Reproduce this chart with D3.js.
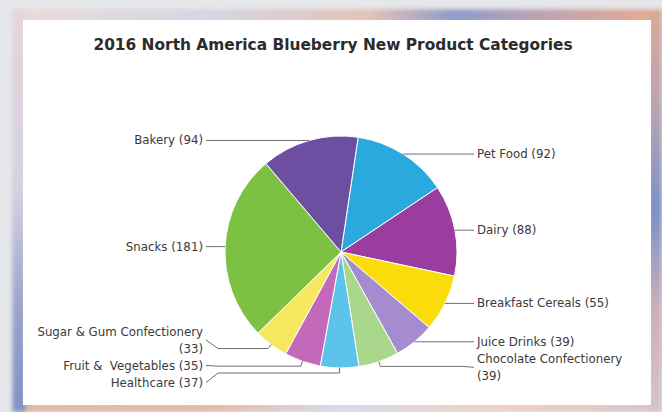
<!DOCTYPE html>
<html>
<head>
<meta charset="utf-8">
<script src="https://cdn.jsdelivr.net/npm/d3@7"></script>
<style>
  html, body { margin: 0; padding: 0; background: #e6e7ea; }
  svg { display: block; font-family: "DejaVu Sans", Verdana, sans-serif; }
</style>
</head>
<body>
<svg id="chart" width="662" height="412"></svg>
<script>
// 2016 North America blueberry new product launches, by category
const title = "2016 North America Blueberry New Product Categories";
const categories = [
  "Pet Food", "Dairy", "Breakfast Cereals", "Juice Drinks",
  "Chocolate Confectionery", "Healthcare", "Fruit &  Vegetables",
  "Sugar & Gum Confectionery", "Snacks", "Bakery"
];
const counts = [92, 88, 55, 39, 39, 37, 35, 33, 181, 94];
const sliceColors = [
  "#2aa9df", "#9b3d9f", "#f9dc0a", "#a58bd0", "#a9d88c",
  "#5cc3ea", "#c469b9", "#f7e660", "#7dc143", "#6c4fa1"
];

const W = 662, H = 412;
const svg = d3.select("#chart");
const defs = svg.append("defs");

// ---- soft coloured frame around the white panel ----
function grad(id, stops, vertical) {
  const g = defs.append("linearGradient").attr("id", id)
    .attr("x1", 0).attr("y1", 0)
    .attr("x2", vertical ? 0 : 1).attr("y2", vertical ? 1 : 0);
  stops.forEach(([o, c]) => g.append("stop").attr("offset", o).attr("stop-color", c));
}
grad("gTop", [[0, "#eadbd8"], [0.3, "#d6d6e4"], [0.55, "#e4c2b6"], [0.68, "#8e9acb"], [0.8, "#b9a2b4"], [1, "#e9aa90"]]);
grad("gBottom", [[0, "#e3b7a4"], [0.3, "#e8b8a4"], [0.5, "#d7d9ea"], [0.75, "#efd0c2"], [1, "#d9c4cc"]]);
grad("gLeft", [[0, "#e4d6da"], [0.45, "#d4d0e0"], [0.75, "#9aa3cc"], [1, "#8192c4"]], true);
grad("gRight", [[0, "#dca898"], [0.25, "#b9a3b2"], [0.5, "#7c91c8"], [0.75, "#cdb0b8"], [1, "#d7c2cc"]], true);

const blur = defs.append("filter").attr("id", "soft")
  .attr("x", "-10%").attr("y", "-10%").attr("width", "120%").attr("height", "120%");
blur.append("feGaussianBlur").attr("stdDeviation", 2);

const frame = svg.append("g").attr("filter", "url(#soft)");
frame.append("rect").attr("x", 0).attr("y", 0).attr("width", W).attr("height", H).attr("fill", "#e6e7ea");
frame.append("rect").attr("x", 12).attr("y", 9).attr("width", W - 12).attr("height", 14).attr("fill", "url(#gTop)");
frame.append("rect").attr("x", 12).attr("y", 402).attr("width", W - 12).attr("height", 10).attr("fill", "url(#gBottom)");
frame.append("rect").attr("x", 12).attr("y", 9).attr("width", 14).attr("height", H - 9).attr("fill", "url(#gLeft)");
frame.append("rect").attr("x", 648).attr("y", 9).attr("width", 14).attr("height", H - 9).attr("fill", "url(#gRight)");

// white chart panel
svg.append("rect").attr("x", 23).attr("y", 20).attr("width", 628).attr("height", 385).attr("fill", "#ffffff");

// ---- title ----
svg.append("text")
  .attr("x", 333).attr("y", 45)
  .attr("text-anchor", "middle").attr("dominant-baseline", "central")
  .attr("font-size", 15.4).attr("font-weight", "bold").attr("fill", "#2b2b2b")
  .text(title);

// ---- pie ----
const cx = 341, cy = 252, r = 116;
const startDeg = 8.5;
const data = categories.map((c, i) => ({ name: c, value: counts[i], color: sliceColors[i] }));

const pie = d3.pie().sort(null).value(d => d.value)
  .startAngle(startDeg * Math.PI / 180)
  .endAngle(startDeg * Math.PI / 180 + 2 * Math.PI);
const arcs = pie(data);
const arc = d3.arc().innerRadius(0).outerRadius(r);

const g = svg.append("g").attr("transform", `translate(${cx},${cy})`);
g.selectAll("path.slice").data(arcs).join("path")
  .attr("class", "slice")
  .attr("d", arc)
  .attr("fill", d => d.data.color)
  .attr("stroke", "#ffffff").attr("stroke-width", 1);

// ---- data labels with connectors ----
const fontSize = 11.8, lineH = 17;
const labelGap = 136;          // horizontal distance from centre to label text
const outerR = r + 5;          // connector break just outside the pie
const leftLimit = 32, rightLimit = 645;
const maxBottom = 391;         // lowest point a label block may reach

const labels = arcs.map(a => {
  const mid = (a.startAngle + a.endAngle) / 2;
  const right = Math.sin(mid) >= 0;
  return {
    a, mid, right,
    text: `${a.data.name} (${a.data.value})`,
    edgeX: cx + r * Math.sin(mid), edgeY: cy - r * Math.cos(mid),
    breakX: cx + outerR * Math.sin(mid), breakY: cy - outerR * Math.cos(mid)
  };
});

// measure text and wrap by words when it does not fit on its side
const meas = svg.append("text").attr("font-size", fontSize).style("white-space", "pre");
function width(s) { meas.text(s); return meas.node().getComputedTextLength(); }
labels.forEach(l => {
  const avail = l.right ? rightLimit - (cx + labelGap) : (cx - labelGap - 2) - leftLimit;
  const words = l.text.split(" ");
  const lines = [];
  let cur = "";
  words.forEach(w => {
    const t = cur === "" ? w : cur + " " + w;
    if (cur !== "" && width(t) > avail) { lines.push(cur); cur = w; }
    else cur = t;
  });
  lines.push(cur);
  l.lines = lines;
  l.h = lines.length * lineH;
});
meas.remove();

// label blocks are centred on the slice edge height; resolve overlaps per side
["left", "right"].forEach(side => {
  const group = labels.filter(l => (side === "right") === l.right)
    .sort((p, q) => p.edgeY - q.edgeY);
  let prevBottom = -Infinity;
  group.forEach(l => {
    let top = l.edgeY - l.h / 2;
    if (top < prevBottom) top = prevBottom;
    l.top = top;
    prevBottom = top + l.h;
  });
  // pull the stack back up if it runs past the bottom of the panel
  let nextTop = maxBottom;
  for (let i = group.length - 1; i >= 0; i--) {
    const l = group[i];
    if (l.top + l.h > nextTop) l.top = nextTop - l.h;
    nextTop = l.top;
  }
  group.forEach(l => { l.anchorY = l.top + l.h / 2; });
});

const lg = svg.append("g");
labels.forEach(l => {
  const dir = l.right ? 1 : -1;
  const tx = l.right ? cx + labelGap : cx - labelGap - 2;
  const sx = l.right ? cx + labelGap - 3 : cx - labelGap + 1;
  const kneeX = sx - dir * 12;
  const moved = Math.abs(l.anchorY - l.edgeY) > 2.5;
  const pts = moved
    ? [[sx, l.anchorY], [kneeX, l.breakY], [l.breakX, l.breakY], [l.edgeX, l.edgeY]]
    : [[sx, l.anchorY], [l.breakX, l.anchorY], [l.edgeX, l.edgeY]];
  lg.append("path")
    .attr("d", d3.line()(pts))
    .attr("fill", "none").attr("stroke", "#6e6e6e").attr("stroke-width", 1);

  const t = lg.append("text")
    .attr("font-size", fontSize).attr("fill", "#3a3a3a")
    .attr("text-anchor", l.right ? "start" : "end")
    .style("white-space", "pre");
  l.lines.forEach((line, i) => {
    t.append("tspan").attr("x", tx)
      .attr("y", l.top + lineH / 2 + i * lineH)
      .attr("dominant-baseline", "central")
      .text(line);
  });
});
</script>
</body>
</html>
